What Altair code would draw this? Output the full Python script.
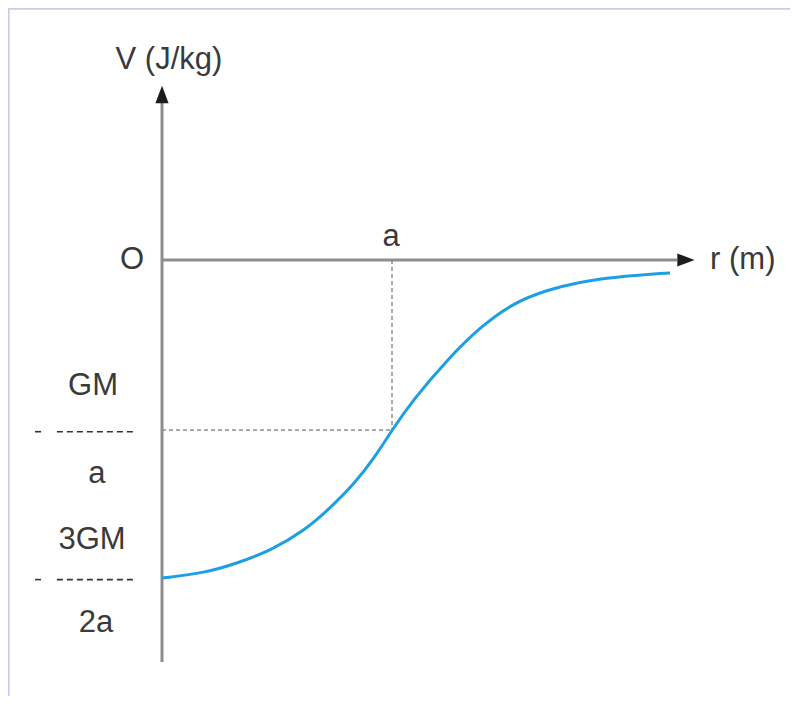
import altair as alt
import pandas as pd

# ---- data (r in units of a, V in units of GM/a as drawn in the sketch) ----
curve_r = [0.0, 0.187, 0.330, 0.478, 0.622, 0.722, 0.839, 0.926, 1.0, 1.091,
           1.239, 1.383, 1.526, 1.674, 1.817, 1.961, 2.209]
curve_v = [-1.871, -1.841, -1.782, -1.706, -1.588, -1.471, -1.312, -1.159, -1.0,
           -0.824, -0.588, -0.394, -0.253, -0.176, -0.129, -0.100, -0.076]

# axis lines (x, x2, y, y2)
axis_x1 = [0.0, 0.0]
axis_x2 = [0.0, 2.239]
axis_y1 = [-2.365, 0.0]
axis_y2 = [0.924, 0.0]

# dashed guide lines to the point (a, -GM/a)
guide_x1 = [1.0, 0.0]
guide_x2 = [1.0, 1.0]
guide_y1 = [0.0, -1.0]
guide_y2 = [-1.0, -1.0]

# fraction bars of the tick labels
bar_x1 = [-0.552, -0.457, -0.552, -0.457]
bar_x2 = [-0.509, -0.109, -0.509, -0.109]
bar_y = [-1.01, -1.01, -1.88, -1.88]

# arrowheads
arrow_x = [0.0, 2.278]
arrow_y = [0.9735, 0.0]
arrow_shape = ["M0,-1L0.76,1L-0.76,1Z", "M1,0L-1,-0.76L-1,0.76Z"]

# labels
label_text = ["GM", "a", "3GM", "2a", "O", "a", "V (J/kg)"]
label_x = [-0.300, -0.283, -0.304, -0.287, -0.130, 0.996, 0.030]
label_y = [-0.741, -1.259, -1.647, -2.135, 0.0, 0.135, 1.176]

rlabel_text = ["r (m)"]
rlabel_x = [2.383]
rlabel_y = [0.0]

X_DOM = [-0.6696, 2.7304]
Y_DOM = [-2.5647, 1.4824]

xs = alt.Scale(domain=X_DOM, nice=False, zero=False)
ys = alt.Scale(domain=Y_DOM, nice=False, zero=False)

FONT = "Liberation Sans"
TXT = "#3a3a3a"


def X(f):
    return alt.X(f, type="quantitative", scale=xs, axis=None)


def Y(f):
    return alt.Y(f, type="quantitative", scale=ys, axis=None)


frame = pd.DataFrame({"x": [X_DOM[0] + 0.003, X_DOM[0]],
                      "x2": [X_DOM[0] + 0.003, X_DOM[1]],
                      "y": [Y_DOM[0], Y_DOM[1] - 0.004],
                      "y2": [Y_DOM[1], Y_DOM[1] - 0.004]})
frame_layer = alt.Chart(frame).mark_rule(color="#cbcbee", strokeWidth=2).encode(
    x=X("x"), x2="x2", y=Y("y"), y2="y2")

axes = pd.DataFrame({"x": axis_x1, "x2": axis_x2, "y": axis_y1, "y2": axis_y2})
axes_layer = alt.Chart(axes).mark_rule(color="#8e8e8e", strokeWidth=3).encode(
    x=X("x"), x2="x2", y=Y("y"), y2="y2")

guides = pd.DataFrame({"x": guide_x1, "x2": guide_x2, "y": guide_y1, "y2": guide_y2})
guides_layer = alt.Chart(guides).mark_rule(
    color="#555555", strokeWidth=1, strokeDash=[4, 3]).encode(
    x=X("x"), x2="x2", y=Y("y"), y2="y2")

bars = pd.DataFrame({"x": bar_x1, "x2": bar_x2, "y": bar_y})
bars_layer = alt.Chart(bars).mark_rule(
    color="#333333", strokeWidth=1.6, strokeDash=[6, 4]).encode(
    x=X("x"), x2="x2", y=Y("y"))

curve = pd.DataFrame({"r": curve_r, "V": curve_v})
curve_layer = alt.Chart(curve).mark_line(
    color="#1e9fe3", strokeWidth=3, interpolate="basis").encode(
    x=X("r"), y=Y("V"))

arrow_layers = []
for ax_, ay_, sh in zip(arrow_x, arrow_y, arrow_shape):
    d = pd.DataFrame({"x": [ax_], "y": [ay_]})
    arrow_layers.append(alt.Chart(d).mark_point(
        shape=sh, size=300, filled=True, color="#1c1c1c", opacity=1).encode(
        x=X("x"), y=Y("y")))

labels = pd.DataFrame({"t": label_text, "x": label_x, "y": label_y})
labels_layer = alt.Chart(labels).mark_text(
    font=FONT, fontSize=31, color=TXT, align="center", baseline="middle").encode(
    x=X("x"), y=Y("y"), text="t:N")

rlabels = pd.DataFrame({"t": rlabel_text, "x": rlabel_x, "y": rlabel_y})
rlabels_layer = alt.Chart(rlabels).mark_text(
    font=FONT, fontSize=31, color=TXT, align="left", baseline="middle").encode(
    x=X("x"), y=Y("y"), text="t:N")

chart = alt.layer(
    frame_layer, guides_layer, bars_layer, axes_layer, curve_layer,
    *arrow_layers, labels_layer, rlabels_layer
).properties(
    width=782, height=688, padding=0,
    autosize=alt.AutoSizeParams(type="none"),
    background="white",
).configure_view(stroke=None)

chart.save("out.html", embed_options={"renderer": "svg", "actions": False})
